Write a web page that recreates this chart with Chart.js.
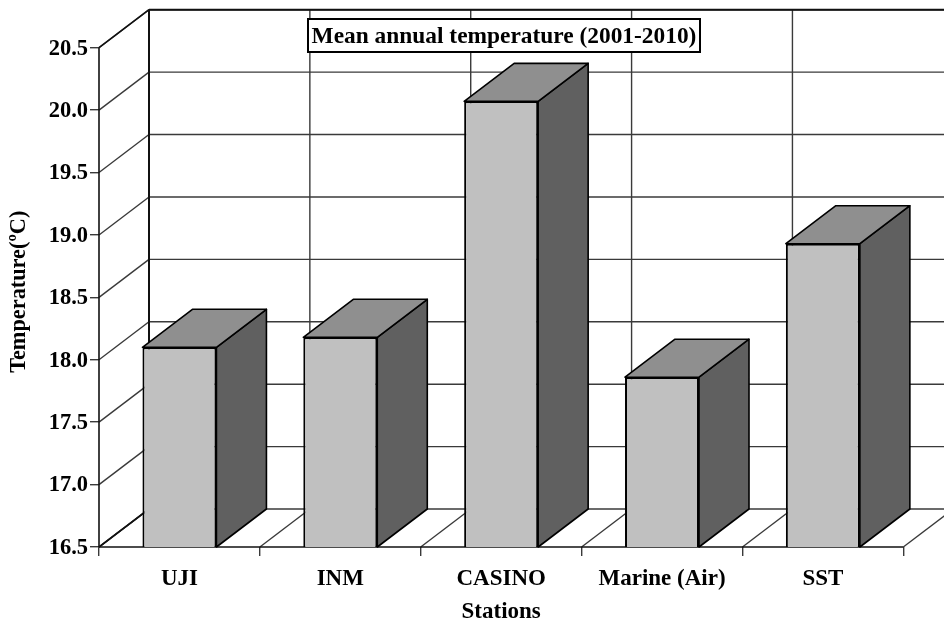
<!DOCTYPE html>
<html>
<head>
<meta charset="utf-8">
<title>Mean annual temperature</title>
<script src="https://cdn.jsdelivr.net/npm/chart.js@4"></script>
<style>
  html, body { margin: 0; padding: 0; background: #fff; }
  canvas { display: block; }
</style>
</head>
<body>
<canvas id="chart" width="944" height="624"></canvas>
<script>
const stations = ['UJI', 'INM', 'CASINO', 'Marine (Air)', 'SST'];
const temperatures = [18.10, 18.18, 20.07, 17.86, 18.93];
const chartTitle = 'Mean annual temperature (2001-2010)';
const yTitle = 'Temperature(ºC)';
const xTitle = 'Stations';

const FONT = '"Liberation Serif", "Times New Roman", serif';
const DEPTH_X = 50;
const DEPTH_Y = 38;

function line(ctx, x1, y1, x2, y2) {
  ctx.beginPath();
  ctx.moveTo(x1, y1);
  ctx.lineTo(x2, y2);
  ctx.stroke();
}

function face(ctx, pts, fill) {
  ctx.beginPath();
  pts.forEach((p, i) => (i ? ctx.lineTo(p[0], p[1]) : ctx.moveTo(p[0], p[1])));
  ctx.closePath();
  ctx.fillStyle = fill;
  ctx.fill();
  ctx.stroke();
}

// back wall, floor and left wall behind the bars, then the depth faces of each bar
const depthPlugin = {
  id: 'depth',
  beforeDatasetsDraw(chart) {
    const { ctx, scales: { y } } = chart;
    const area = chart.chartArea;
    ctx.save();
    ctx.strokeStyle = '#3a3a3a';
    ctx.lineWidth = 1.4;

    // value lines: across the back wall, and the diagonal on the left wall
    y.ticks.forEach((t) => {
      const py = y.getPixelForValue(t.value);
      line(ctx, area.left, py, area.left + DEPTH_X, py - DEPTH_Y);
      line(ctx, area.left + DEPTH_X, py - DEPTH_Y, chart.width, py - DEPTH_Y);
    });

    // category boundaries: up the back wall, and the diagonal on the floor
    for (let i = 0; i <= stations.length; i++) {
      const px = area.left + (i * area.width) / stations.length;
      line(ctx, px, area.bottom, px + DEPTH_X, area.bottom - DEPTH_Y);
      line(ctx, px + DEPTH_X, area.bottom - DEPTH_Y, px + DEPTH_X, area.top - DEPTH_Y);
    }

    // heavier edges
    ctx.strokeStyle = '#111';
    ctx.lineWidth = 2;
    line(ctx, area.left + DEPTH_X, area.top - DEPTH_Y, area.left + DEPTH_X, area.bottom - DEPTH_Y);
    line(ctx, area.left + DEPTH_X, area.top - DEPTH_Y, chart.width, area.top - DEPTH_Y);
    ctx.lineWidth = 1.6;
    line(ctx, area.left, area.top, area.left + DEPTH_X, area.top - DEPTH_Y);
    line(ctx, area.left, area.bottom, area.left + DEPTH_X, area.bottom - DEPTH_Y);
    line(ctx, area.left, area.top, area.left, area.bottom);
    line(ctx, area.left, area.bottom, area.right, area.bottom);

    // top and side of each bar, standing on the axis floor
    ctx.strokeStyle = '#000';
    ctx.lineWidth = 1.6;
    ctx.lineJoin = 'round';
    chart.getDatasetMeta(0).data.forEach((bar) => {
      const l = bar.x - bar.width / 2;
      const r = bar.x + bar.width / 2;
      const base = area.bottom;
      face(ctx, [[r, base], [r + DEPTH_X, base - DEPTH_Y], [r + DEPTH_X, bar.y - DEPTH_Y], [r, bar.y]], '#606060');
      face(ctx, [[l, bar.y], [l + DEPTH_X, bar.y - DEPTH_Y], [r + DEPTH_X, bar.y - DEPTH_Y], [r, bar.y]], '#8f8f8f');
    });
    ctx.restore();
  },
  afterDraw(chart) {
    const { ctx } = chart;
    ctx.save();
    ctx.font = 'bold 23.4px ' + FONT;
    ctx.fillStyle = '#fff';
    ctx.strokeStyle = '#000';
    ctx.lineWidth = 2;
    ctx.fillRect(308, 19, 392, 33);
    ctx.strokeRect(308, 19, 392, 33);
    ctx.fillStyle = '#000';
    ctx.textAlign = 'center';
    ctx.textBaseline = 'middle';
    ctx.fillText(chartTitle, 504, 37);
    ctx.restore();
  }
};

new Chart(document.getElementById('chart'), {
  type: 'bar',
  data: {
    labels: stations,
    datasets: [{
      data: temperatures,
      backgroundColor: '#c0c0c0',
      borderColor: '#000',
      borderWidth: 2,
      barPercentage: 0.46,
      categoryPercentage: 1
    }]
  },
  plugins: [depthPlugin],
  options: {
    responsive: false,
    animation: false,
    layout: { padding: { left: 0, right: 40.7, top: 47.7, bottom: 0 } },
    plugins: { legend: { display: false }, title: { display: false }, tooltip: { enabled: false } },
    scales: {
      x: {
        afterFit(scale) { scale.height = 77; },
        border: { display: false },
        grid: { drawOnChartArea: false, drawTicks: true, tickLength: 9, color: '#3a3a3a', lineWidth: 1.4 },
        ticks: {
          autoSkip: false,
          maxRotation: 0,
          padding: 9,
          color: '#000',
          font: { family: FONT, size: 23, weight: 'bold' }
        },
        title: {
          display: true,
          text: xTitle,
          color: '#000',
          font: { family: FONT, size: 23, weight: 'bold' },
          padding: { top: 0, bottom: -2 }
        }
      },
      y: {
        min: 16.5,
        max: 20.5,
        afterFit(scale) { scale.width = 99; },
        border: { display: false },
        grid: { drawOnChartArea: false, drawTicks: true, tickLength: 9, color: '#3a3a3a', lineWidth: 1.4 },
        ticks: {
          stepSize: 0.5,
          padding: 2,
          labelOffset: 1,
          color: '#000',
          font: { family: FONT, size: 22.5, weight: 'bold' },
          callback: (v) => v.toFixed(1)
        },
        title: {
          display: true,
          // leading spaces lift the rotated title a little above the axis middle
          text: '\u00a0\u00a0' + yTitle,
          color: '#000',
          font: { family: FONT, size: 22.3, weight: 'bold' },
          padding: { top: 6, bottom: 0 }
        }
      }
    }
  }
});
</script>
</body>
</html>
